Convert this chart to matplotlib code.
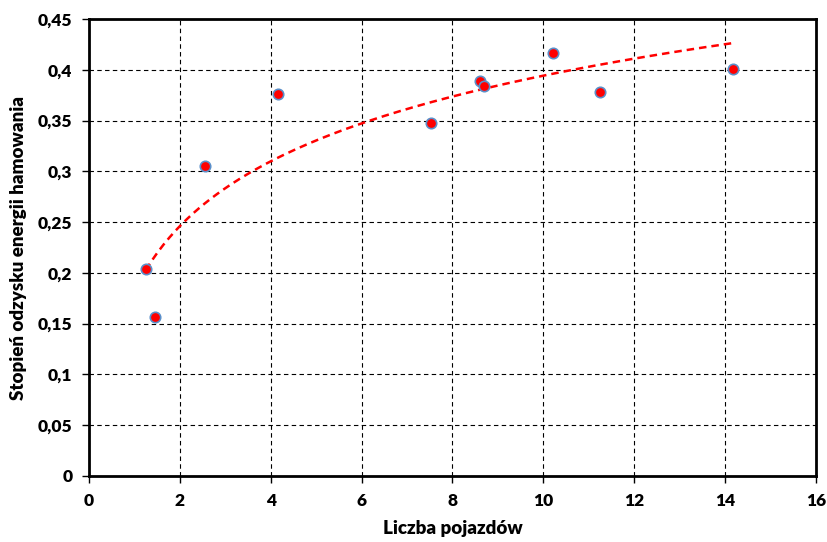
import numpy as np
import matplotlib
matplotlib.use("Agg")
import matplotlib.pyplot as plt

# measured points
vehicles = [1.25, 1.45, 2.55, 4.16, 7.53, 8.60, 8.69, 10.21, 11.25, 14.17]
recovery = [0.204, 0.157, 0.305, 0.376, 0.348, 0.389, 0.384, 0.4165, 0.378, 0.401]

x_ticks = [0, 2, 4, 6, 8, 10, 12, 14, 16]
y_ticks = [0, 0.05, 0.1, 0.15, 0.2, 0.25, 0.3, 0.35, 0.4, 0.45]
y_tick_labels = ["0", "0,05", "0,1", "0,15", "0,2", "0,25", "0,3", "0,35", "0,4", "0,45"]

plt.rcParams["font.family"] = ["Lato", "DejaVu Sans"]

fig = plt.figure(figsize=(8.27, 5.42), dpi=100)
ax = fig.add_axes([0.1076, 0.1218, 0.8791, 0.8431])

# logarithmic trend line (like Excel)
a, b = np.polyfit(np.log(vehicles), recovery, 1)
xs = np.linspace(min(vehicles), max(vehicles), 200)
ax.plot(xs, a * np.log(xs) + b, color="red", linestyle=(0, (3, 2)), linewidth=1.8, zorder=3)

ax.plot(vehicles, recovery, linestyle="none", marker="o", markersize=7.5,
        markerfacecolor="red", markeredgecolor="#5b8fc9", markeredgewidth=1.2, zorder=4)

ax.set_xlim(0, 16)
ax.set_ylim(0, 0.45)
ax.set_xticks(x_ticks)
ax.set_yticks(y_ticks)
ax.set_yticklabels(y_tick_labels)
ax.grid(True, color="black", linestyle=(0, (4, 3)), linewidth=0.8)
ax.set_axisbelow(True)

for s in ax.spines.values():
    s.set_linewidth(2)
    s.set_color("black")
ax.tick_params(direction="out", length=5, width=1, labelsize=12.5, pad=7)
for lbl in ax.get_xticklabels() + ax.get_yticklabels():
    lbl.set_fontweight("heavy")

ax.set_xlabel("Liczba pojazdów", fontsize=13.5, fontweight="heavy", labelpad=8)
ax.set_ylabel("Stopień odzysku energii hamowania", fontsize=13.5, fontweight="heavy", labelpad=8)

fig.savefig("out.png", dpi=100)
